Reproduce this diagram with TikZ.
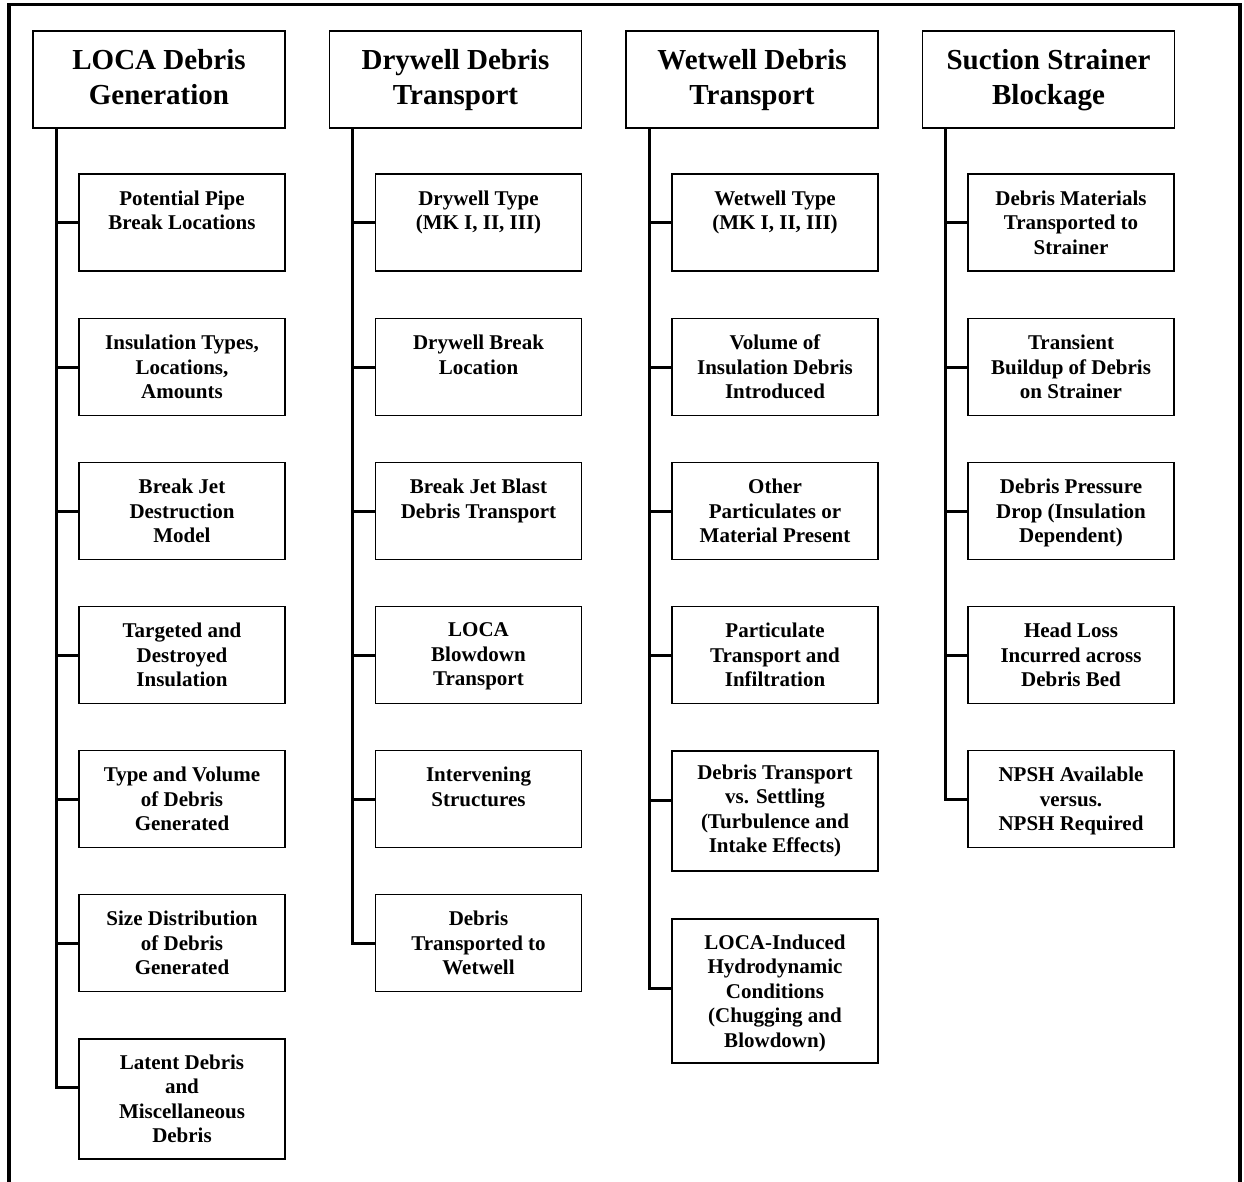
\documentclass[tikz,border=0pt]{standalone}
\usepackage{fontspec}
\setmainfont{Liberation Serif}
\begin{document}
\begin{tikzpicture}[x=1pt,y=-1pt,
  hdr/.style={draw, line width=1.5pt, minimum width=252pt, minimum height=97pt, inner sep=0pt},
  hdrtxt/.style={anchor=north, inner sep=0pt, align=center,
    font=\fontsize{29}{35}\selectfont\bfseries, execute at begin node=\strut},
  sub/.style={draw, line width=1.5pt, minimum width=206pt, minimum height=97pt, inner sep=0pt},
  subtxt/.style={anchor=north, inner sep=0pt, align=center,
    font=\fontsize{21}{24.5}\selectfont\bfseries, execute at begin node=\strut},
  trunk/.style={line width=3pt, line join=miter},
  frame/.style={line width=3.5pt, line join=miter}]
\useasboundingbox (0,0) rectangle (1244,1181);
\newcommand\myhdr[4]{%
  \node[hdr] (#1) at (#2,79.5) {};
  \node[hdrtxt] (#1t) at ([yshift=-18.5pt]#1.north) {#3\\#4};}
\newcommand\mysub[5][17]{%
  \node[sub, minimum height=#4pt] (#2) at #3 {};
  \node[subtxt] (#2t) at ([yshift=-#1pt]#2.north) {#5};}
% outer frame (open at bottom)
\coordinate (f1) at (9,1185);
\coordinate (f2) at (9,4.5);
\coordinate (f3) at (1240,4.5);
\coordinate (f4) at (1240,1185);
\draw[frame] (f1) -- (f2) -- (f3) -- (f4);

% headers
\myhdr{A}{159}{LOCA Debris}{Generation}
\myhdr{B}{455.5}{Drywell Debris}{Transport}
\myhdr{C}{752}{Wetwell Debris}{Transport}
\myhdr{D}{1048.5}{Suction Strainer}{Blockage}

% column A
\mysub{a1}{(182,222.5)}{97}{Potential Pipe\\Break Locations}
\mysub{a2}{(182,367)}{97}{Insulation Types,\\Locations,\\Amounts}
\mysub{a3}{(182,511)}{97}{Break Jet\\Destruction\\Model}
\mysub{a4}{(182,655)}{97}{Targeted and\\Destroyed\\Insulation}
\mysub{a5}{(182,799)}{97}{Type and Volume\\of Debris\\Generated}
\mysub{a6}{(182,943)}{97}{Size Distribution\\of Debris\\Generated}
\mysub[16]{a7}{(182,1099)}{120}{Latent Debris\\and\\Miscellaneous\\Debris}

% column B
\mysub{b1}{(478.5,222.5)}{97}{Drywell Type\\(MK I, II, III)}
\mysub{b2}{(478.5,367)}{97}{Drywell Break\\Location}
\mysub{b3}{(478.5,511)}{97}{Break Jet Blast\\Debris Transport}
\mysub{b4}{(478.5,655)}{97}{LOCA\\Blowdown\\Transport}
\mysub{b5}{(478.5,799)}{97}{Intervening\\Structures}
\mysub{b6}{(478.5,943)}{97}{Debris\\Transported to\\Wetwell}

% column C
\mysub{c1}{(775,222.5)}{97}{Wetwell Type\\(MK I, II, III)}
\mysub{c2}{(775,367)}{97}{Volume of\\Insulation Debris\\Introduced}
\mysub{c3}{(775,511)}{97}{Other\\Particulates or\\Material Present}
\mysub{c4}{(775,655)}{97}{Particulate\\Transport and\\Infiltration}
\mysub[14]{c5}{(775,811)}{120}{Debris Transport\\vs. Settling\\(Turbulence and\\Intake Effects)}
\mysub[16]{c6}{(775,991)}{144}{LOCA-Induced\\Hydrodynamic\\Conditions\\(Chugging and\\Blowdown)}

% column D
\mysub{d1}{(1071,222.5)}{97}{Debris Materials\\Transported to\\Strainer}
\mysub{d2}{(1071,367)}{97}{Transient\\Buildup of Debris\\on Strainer}
\mysub{d3}{(1071,511)}{97}{Debris Pressure\\Drop (Insulation\\Dependent)}
\mysub{d4}{(1071,655)}{97}{Head Loss\\Incurred across\\Debris Bed}
\mysub{d5}{(1071,799)}{97}{NPSH Available\\versus.\\NPSH Required}

% trunks
\draw[trunk] ([xshift=-22pt]a1.west |- A.south) |- ([yshift=12pt]a7.west);
\draw[trunk] ([xshift=-22pt]b1.west |- B.south) |- (b6.west);
\draw[trunk] ([xshift=-22pt]c1.west |- C.south) |- ([yshift=3pt]c6.west);
\draw[trunk] ([xshift=-22pt]d1.west |- D.south) |- (d5.west);

% branches
\foreach \n in {a1,a2,a3,a4,a5,a6,b1,b2,b3,b4,b5,c1,c2,c3,c4,d1,d2,d3,d4}
  \draw[trunk] (\n.west) -- ++(-22pt,0);
\draw[trunk] ([yshift=11pt]c5.west) -- ++(-22pt,0);
\end{tikzpicture}
\end{document}
